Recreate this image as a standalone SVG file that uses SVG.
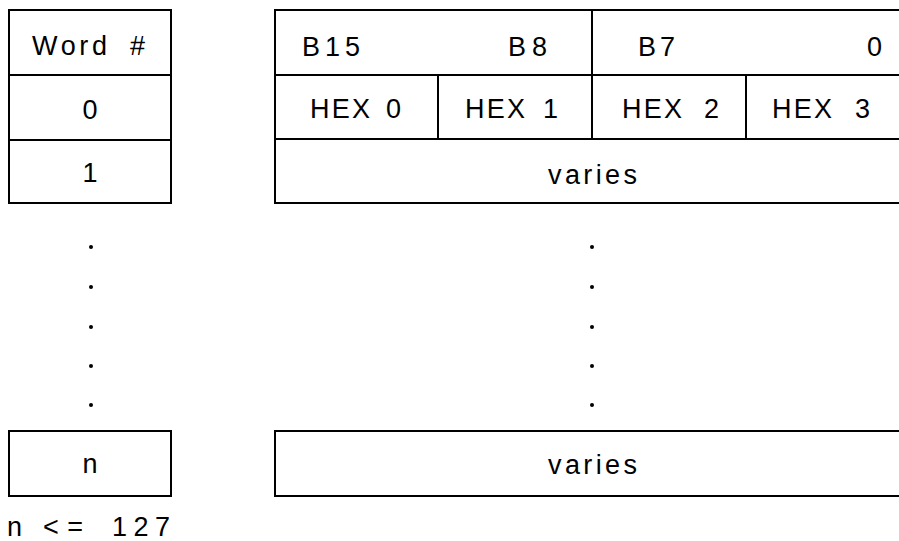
<svg xmlns="http://www.w3.org/2000/svg" width="899" height="541" viewBox="0 0 899 541">
<style>
.ln{stroke:#000;stroke-width:2;fill:none;stroke-linecap:square}
.t{font-family:"Liberation Sans",Arial,sans-serif;font-size:27px;fill:#000}
.c{text-anchor:middle}
.d{fill:#000}
</style>
<rect x="0" y="0" width="899" height="541" fill="#fff"/>
<g id="word-col">
  <g id="word-header"><rect class="ln" x="9" y="10" width="162" height="65"/><text class="t" y="55"><tspan x="32" textLength="75" lengthAdjust="spacing">Word</tspan><tspan x="130">#</tspan></text></g>
  <g id="word-0"><rect class="ln" x="9" y="75" width="162" height="65"/><text class="t c" x="90" y="119">0</text></g>
  <g id="word-1"><rect class="ln" x="9" y="140" width="162" height="63"/><text class="t c" x="90" y="182">1</text></g>
  <g id="word-dots"><circle class="d" cx="91" cy="247" r="2"/><circle class="d" cx="91" cy="287" r="2"/><circle class="d" cx="91" cy="327" r="2"/><circle class="d" cx="91" cy="366" r="2"/><circle class="d" cx="91" cy="405" r="2"/></g>
  <g id="word-n"><rect class="ln" x="9" y="431" width="162" height="65"/><text class="t c" x="90" y="473">n</text></g>
  <text id="note" class="t" y="536"><tspan x="7">n</tspan><tspan x="43" textLength="40" lengthAdjust="spacing">&lt;=</tspan><tspan x="112" textLength="58" lengthAdjust="spacing">127</tspan></text>
</g>
<g id="data-table">
  <g id="bits-high"><path class="ln" d="M899 10H275V75H592V10"/><text class="t" x="302" y="56" textLength="58" lengthAdjust="spacing">B15</text><text class="t" x="508" y="56" textLength="39" lengthAdjust="spacing">B8</text></g>
  <g id="bits-low"><path class="ln" d="M592 75H899"/><text class="t" x="638" y="56" textLength="37" lengthAdjust="spacing">B7</text><text class="t" x="867" y="56">0</text></g>
  <g id="hex-0"><path class="ln" d="M275 75V139H438V75"/><text class="t" y="118"><tspan x="310" textLength="60" lengthAdjust="spacing">HEX</tspan><tspan x="386">0</tspan></text></g>
  <g id="hex-1"><path class="ln" d="M438 139H592V75"/><text class="t" y="118"><tspan x="465" textLength="60" lengthAdjust="spacing">HEX</tspan><tspan x="543">1</tspan></text></g>
  <g id="hex-2"><path class="ln" d="M592 139H746V75"/><text class="t" y="118"><tspan x="622" textLength="60" lengthAdjust="spacing">HEX</tspan><tspan x="704">2</tspan></text></g>
  <g id="hex-3"><path class="ln" d="M746 139H899"/><text class="t" y="118"><tspan x="772" textLength="60" lengthAdjust="spacing">HEX</tspan><tspan x="855">3</tspan></text></g>
  <g id="row-1"><path class="ln" d="M275 139V203H899"/><text class="t" x="548" y="184" textLength="89" lengthAdjust="spacing">varies</text></g>
  <g id="data-dots"><circle class="d" cx="592" cy="247" r="2"/><circle class="d" cx="592" cy="287" r="2"/><circle class="d" cx="592" cy="327" r="2"/><circle class="d" cx="592" cy="366" r="2"/><circle class="d" cx="592" cy="405" r="2"/></g>
  <g id="row-n"><path class="ln" d="M899 431H275V496H899"/><text class="t" x="548" y="474" textLength="89" lengthAdjust="spacing">varies</text></g>
</g>
<g id="connectors"></g>
</svg>
